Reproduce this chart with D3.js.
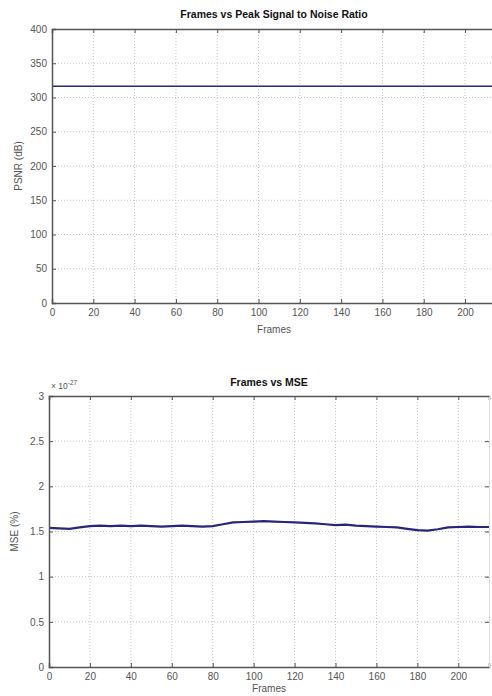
<!DOCTYPE html>
<html>
<head>
<meta charset="utf-8">
<script src="https://cdn.jsdelivr.net/npm/d3@7"></script>
<style>
  html, body { margin: 0; padding: 0; background: #fff; }
  svg { display: block; font-family: "Liberation Sans", Arial, sans-serif; }
</style>
</head>
<body>
<div id="chart"></div>
<script>
// frames sampled every 5
const frames = [0,5,10,15,20,25,30,35,40,45,50,55,60,65,70,75,80,85,90,95,100,105,110,115,120,125,130,135,140,145,150,155,160,165,170,175,180,185,190,195,200,205,210,215];

// PSNR (dB) - flat line
const psnrValues = [316.6,316.6,316.6,316.6,316.6,316.6,316.6,316.6,316.6,316.6,316.6,316.6,316.6,316.6,316.6,316.6,316.6,316.6,316.6,316.6,316.6,316.6,316.6,316.6,316.6,316.6,316.6,316.6,316.6,316.6,316.6,316.6,316.6,316.6,316.6,316.6,316.6,316.6,316.6,316.6,316.6,316.6,316.6,316.6];

// MSE values (x 10^-27)
const mseValues = [1.54,1.535,1.53,1.545,1.56,1.565,1.56,1.565,1.56,1.565,1.56,1.555,1.56,1.565,1.56,1.555,1.56,1.58,1.60,1.605,1.61,1.615,1.61,1.605,1.60,1.595,1.59,1.58,1.57,1.575,1.565,1.56,1.555,1.55,1.545,1.53,1.515,1.51,1.525,1.545,1.55,1.555,1.55,1.55];

const xTicks = [0,20,40,60,80,100,120,140,160,180,200];
const psnrTicks = [0,50,100,150,200,250,300,350,400];
const mseTicks = [0,0.5,1,1.5,2,2.5,3];

const W = 492, H = 696;
const svg = d3.select("#chart").append("svg").attr("width", W).attr("height", H);

const axisColor = "#555";
const textColor = "#555";
const gridColor = "#c4c4c4";
const lineColor = "#26267f";

function drawPanel(opts) {
    const x = d3.scaleLinear().domain([0, 215]).range([opts.left, opts.right]);
    const y = d3.scaleLinear().domain(opts.yDomain).range([opts.bottom, opts.top]);
    const g = svg.append("g");

    // grid
    g.selectAll(".vgrid").data(xTicks.filter(d => d > 0)).enter().append("line")
        .attr("x1", d => x(d)).attr("x2", d => x(d))
        .attr("y1", opts.top).attr("y2", opts.bottom)
        .attr("stroke", gridColor).attr("stroke-width", 1).attr("stroke-dasharray", "1,2");
    g.selectAll(".hgrid").data(opts.yTicks.slice(1, -1)).enter().append("line")
        .attr("x1", opts.left).attr("x2", opts.right)
        .attr("y1", d => y(d)).attr("y2", d => y(d))
        .attr("stroke", gridColor).attr("stroke-width", 1).attr("stroke-dasharray", "1,2");

    // data line
    const line = d3.line().x((d, i) => x(frames[i])).y(d => y(d));
    g.append("path").datum(opts.values)
        .attr("fill", "none").attr("stroke", lineColor)
        .attr("stroke-width", opts.lineWidth)
        .attr("d", line);

    // axes
    const xAxis = d3.axisBottom(x).tickValues(xTicks).tickSize(-4).tickPadding(6);
    const gx = g.append("g").attr("transform", `translate(0,${opts.bottom})`).call(xAxis);
    const xTop = d3.axisTop(x).tickValues(xTicks).tickSize(-4).tickFormat("");
    const gxt = g.append("g").attr("transform", `translate(0,${opts.top})`).call(xTop);
    const yAxis = d3.axisLeft(y).tickValues(opts.yTicks).tickSize(-4).tickPadding(5).tickFormat(opts.yFormat);
    const gy = g.append("g").attr("transform", `translate(${opts.left},0)`).call(yAxis);
    if (opts.rightTicks) {
        const yRight = d3.axisRight(y).tickValues(opts.yTicks).tickSize(-4).tickFormat("");
        const gyr = g.append("g").attr("transform", `translate(${opts.right},0)`).call(yRight);
        gyr.select(".domain").attr("stroke", "#ddd");
        gyr.selectAll(".tick line").attr("stroke", axisColor);
    }
    [gx, gxt, gy].forEach(a => {
        a.select(".domain").attr("stroke", axisColor).attr("stroke-width", 1.5);
        a.selectAll(".tick line").attr("stroke", axisColor);
        a.selectAll(".tick text").attr("fill", textColor).style("font-size", "10px");
    });

    // title
    svg.append("text").attr("x", opts.titleX).attr("y", opts.titleY)
        .attr("text-anchor", "middle").style("font-size", "10.5px").style("font-weight", "bold")
        .attr("fill", "#111").text(opts.title);
    // x label
    svg.append("text").attr("x", opts.titleX).attr("y", opts.xLabelY)
        .attr("text-anchor", "middle").style("font-size", "10px")
        .attr("fill", textColor).text("Frames");
    // y label
    svg.append("text")
        .attr("transform", `translate(${opts.yLabelX},${(opts.top + opts.bottom) / 2}) rotate(-90)`)
        .attr("text-anchor", "middle").style("font-size", "10px")
        .attr("fill", textColor).text(opts.yLabel);
}

drawPanel({
    left: 52, right: 496, top: 29, bottom: 303,
    yDomain: [0, 400], yTicks: psnrTicks, yFormat: d3.format("d"),
    values: psnrValues, lineWidth: 1.5,
    title: "Frames vs Peak Signal to Noise Ratio", titleX: 274, titleY: 18,
    xLabelY: 333, yLabel: "PSNR (dB)", yLabelX: 22, rightTicks: false
});

drawPanel({
    left: 49, right: 489, top: 396, bottom: 667,
    yDomain: [0, 3], yTicks: mseTicks, yFormat: d => String(d),
    values: mseValues, lineWidth: 2.2,
    title: "Frames vs MSE", titleX: 269, titleY: 386,
    xLabelY: 692, yLabel: "MSE (%)", yLabelX: 18, rightTicks: true
});

// exponent label
const ex = svg.append("text").attr("x", 51).attr("y", 389)
    .style("font-size", "8.5px").attr("fill", textColor);
ex.append("tspan").text("\u00d7 10");
ex.append("tspan").attr("dy", -4).style("font-size", "6.5px").text("-27");
</script>
</body>
</html>
